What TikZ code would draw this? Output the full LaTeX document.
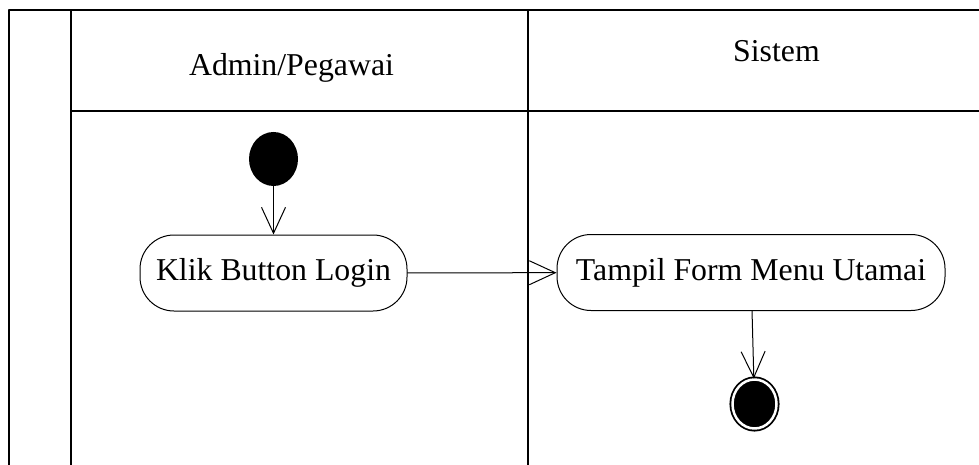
\documentclass[tikz,border=0pt]{standalone}
\usepackage{fontspec}
\setmainfont{Liberation Serif}
\usepackage{tikz}
\usetikzlibrary{arrows.meta,positioning,shapes.geometric}

\begin{document}
\begin{tikzpicture}[line cap=round,line join=round,x=1pt,y=-1pt,
  >={Straight Barb[length=26pt,width=24pt]},
  lane/.style={line width=1.8pt},
  activity/.style={draw,line width=1pt,rounded corners=34pt,minimum height=76pt,inner sep=0pt,font=\fontsize{31.8}{36}\selectfont},
  startnode/.style={ellipse,fill=black,minimum width=49pt,minimum height=54pt,inner sep=0pt},
  finalnode/.style={ellipse,draw,line width=1.8pt,fill=black,double=white,double distance=2.5pt,minimum width=44pt,minimum height=49pt,inner sep=0pt},
  flow/.style={->,line width=1pt},
  header/.style={anchor=base,font=\fontsize{31.8}{36}\selectfont}]
\useasboundingbox (0,0) rectangle (979,465);
% swimlanes
\draw[lane] (9,465) -- (9,10) -- (979,10);
\draw[lane] (71,465) -- (71,10);
\draw[lane] (528,465) -- (528,10);
\draw[lane] (71,111) -- (979,111);
\node[header] (admin) at (291.5,76) {Admin/Pegawai};
\node[header] (sistem) at (776.5,62) {Sistem};
% nodes
\node[startnode] (start) at (273.5,159) {};
\node[activity,minimum width=267pt] (login) at (273.5,273) {Klik Button Login};
\node[activity,minimum width=388pt] (menu) at (751,272.5) {Tampil Form Menu Utamai};
\node[finalnode] (final) at (754.5,404) {};
% flows
\draw[flow] (start) -- (login);
\draw[flow] (login) -- (menu);
\draw[flow] (menu) -- (final);
\end{tikzpicture}
\end{document}
